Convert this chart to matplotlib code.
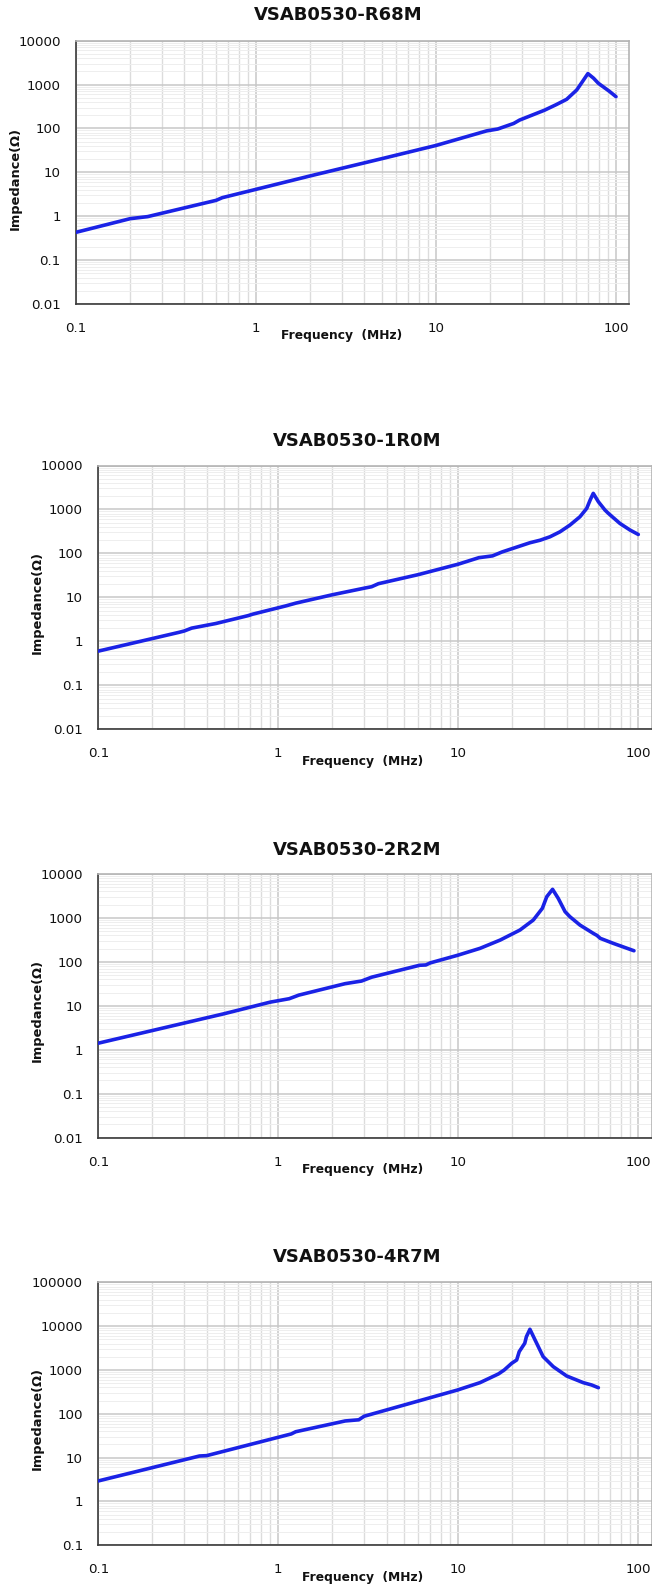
import matplotlib
matplotlib.use("Agg")
import matplotlib.pyplot as plt
from matplotlib.ticker import LogLocator, FixedLocator, FixedFormatter, NullFormatter
import math

# ---------------- data ----------------
titles = ["VSAB0530-R68M", "VSAB0530-1R0M", "VSAB0530-2R2M", "VSAB0530-4R7M"]

freq_r68 = [0.1, 0.2, 0.25, 0.4, 0.6, 0.65, 1, 2, 5, 10, 19.1, 22, 27, 29.1, 40, 46.6,
            53.2, 60.5, 64.5, 69.8, 75, 79.8, 88.7, 92, 100]
imp_r68 = [0.43, 0.88, 0.98, 1.55, 2.3, 2.65, 4.1, 8.3, 20.5, 41, 88, 97, 130, 155, 260, 350,
           462, 753, 1104, 1780, 1400, 1071, 781, 700, 530]

freq_1r0 = [0.1, 0.28, 0.3, 0.33, 0.45, 0.68, 0.72, 1.1, 1.25, 2.0, 3.0, 3.3, 3.6, 6.0, 10, 13,
            15.5, 17.5, 25, 28.5, 32.3, 36.7, 41.7, 47.4, 51.7, 54, 56.2, 60, 65.3, 68.2, 79, 90, 100]
imp_1r0 = [0.6, 1.6, 1.72, 2.0, 2.55, 3.85, 4.15, 6.4, 7.4, 11.5, 16.2, 17.5, 20.5, 33, 57, 80,
           88, 108, 175, 200, 239, 310, 441, 682, 1058, 1637, 2325, 1500, 969, 815, 482, 340, 270]

freq_2r2 = [0.1, 0.5, 0.9, 1.15, 1.3, 2.35, 2.9, 3.3, 6.1, 6.6, 7.0, 9.9, 13.2, 17.1, 22, 26.1,
            29.3, 31, 33.4, 35.9, 39.2, 41.7, 47.4, 56.2, 58.9, 61.5, 72.6, 94.6]
imp_2r2 = [1.41, 6.6, 12.1, 14.5, 17.5, 31.9, 36.6, 44.8, 83.7, 85, 95, 141, 203, 314, 530, 896,
           1652, 3040, 4480, 2793, 1387, 1066, 689, 446, 400, 343, 264, 179]

freq_4r7 = [0.1, 0.365, 0.4, 1.18, 1.25, 2.35, 2.8, 3.0, 9.9, 13.2, 16.7, 18.0, 19.8, 21.1, 21.8,
            23.4, 23.9, 25, 26.7, 29.6, 33.7, 40, 49.4, 55, 60]
imp_4r7 = [2.94, 10.9, 11.1, 34.7, 39, 68.6, 73, 88, 349, 514, 811, 1000, 1419, 1690, 2618,
           4064, 5754, 8472, 4830, 2013, 1189, 729, 514, 455, 394]

freqs = [freq_r68, freq_1r0, freq_2r2, freq_4r7]
imps = [imp_r68, imp_1r0, imp_2r2, imp_4r7]

x_ticks = [0.1, 1, 10, 100]
x_ticklabels = ["0.1", "1", "10", "100"]
y_ticks_a = [0.01, 0.1, 1, 10, 100, 1000, 10000]
y_labels_a = ["0.01", "0.1", "1", "10", "100", "1000", "10000"]
y_ticks_b = [0.1, 1, 10, 100, 1000, 10000, 100000]
y_labels_b = ["0.1", "1", "10", "100", "1000", "10000", "100000"]
y_ticks = [y_ticks_a, y_ticks_a, y_ticks_a, y_ticks_b]
y_labels = [y_labels_a, y_labels_a, y_labels_a, y_labels_b]

# ---------------- layout (pixels) ----------------
W, H = 652, 1588
boxes = [(76, 40.7, 304.0), (98.3, 465.5, 729.3), (98.3, 874.0, 1137.6), (98.3, 1282.3, 1545.3)]
title_pos = [(338, 15), (357.6, 441), (357.6, 850), (357.6, 1257)]
xlabel_pos = [(342, 336), (363, 762), (363, 1170), (363, 1577)]
ylabel_pos = [(15, 178), (37.5, 602.5), (37.5, 1010.8), (37.5, 1419)]
decade_px = 180.0
xmin, xmax = 0.1, 118.5
width_px = decade_px * (math.log10(xmax) - math.log10(xmin))

LINE = "#1a22e6"
FONT = "DejaVu Sans"

fig = plt.figure(figsize=(W / 100, H / 100), dpi=100)
fig.patch.set_facecolor("white")

for i in range(4):
    left, top, bottom = boxes[i]
    ax = fig.add_axes([left / W, 1 - bottom / H, width_px / W, (bottom - top) / H])
    ax.set_xscale("log")
    ax.set_yscale("log")
    ax.set_xlim(xmin, xmax)
    ax.set_ylim(y_ticks[i][0], y_ticks[i][-1])

    ax.xaxis.set_major_locator(FixedLocator(x_ticks))
    ax.xaxis.set_major_formatter(FixedFormatter(x_ticklabels))
    ax.xaxis.set_minor_locator(LogLocator(base=10, subs=range(2, 10), numticks=20))
    ax.xaxis.set_minor_formatter(NullFormatter())
    ax.yaxis.set_major_locator(FixedLocator(y_ticks[i]))
    ax.yaxis.set_major_formatter(FixedFormatter(y_labels[i]))
    ax.yaxis.set_minor_locator(LogLocator(base=10, subs=range(2, 10), numticks=20))
    ax.yaxis.set_minor_formatter(NullFormatter())

    ax.grid(True, which="major", axis="both", color="#c8c8c8", lw=1.1)
    ax.grid(True, which="minor", axis="x", color="#dcdcdc", lw=1.0)
    ax.grid(True, which="minor", axis="y", color="#eeeeee", lw=0.7)
    ax.set_axisbelow(True)

    ax.tick_params(axis="both", which="both", length=0)
    ax.tick_params(axis="x", which="major", pad=13, labelsize=9.6)
    ax.tick_params(axis="y", which="major", pad=11, labelsize=9.6)
    for lab in ax.get_xticklabels() + ax.get_yticklabels():
        lab.set_family(FONT)
        lab.set_color("#111111")

    for s in ["left", "bottom"]:
        ax.spines[s].set_color("#3a3a3a")
        ax.spines[s].set_linewidth(1.2)
    for s in ["top", "right"]:
        ax.spines[s].set_color("#b4b4b4")
        ax.spines[s].set_linewidth(1.2)

    ax.plot(freqs[i], imps[i], color=LINE, lw=2.6, solid_capstyle="round",
            solid_joinstyle="round", zorder=3)

    tx, ty = title_pos[i]
    fig.text(tx / W, 1 - ty / H, titles[i], ha="center", va="center",
             fontsize=13, fontweight="bold", family=FONT, color="#111111")
    lx, ly = xlabel_pos[i]
    fig.text(lx / W, 1 - ly / H, "Frequency  (MHz)", ha="center", va="center",
             fontsize=8.8, fontweight="bold", family=FONT, color="#111111")
    yx, yy = ylabel_pos[i]
    fig.text(yx / W, 1 - yy / H, "Impedance(\u03a9)", ha="center", va="center",
             rotation=90, fontsize=9.4, fontweight="bold", family=FONT, color="#111111")

fig.savefig("out.png", dpi=100, facecolor="white")
